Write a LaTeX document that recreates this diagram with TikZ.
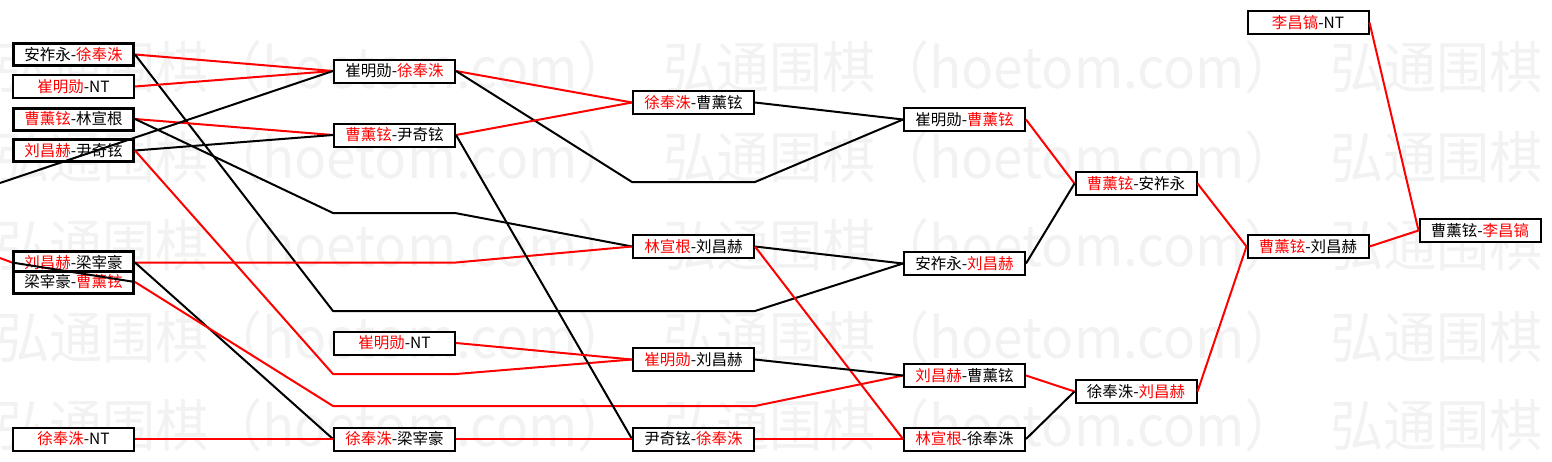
\documentclass[tikz,border=0pt]{standalone}
\usepackage{fontspec}
\setmainfont{Noto Sans CJK SC}
\newcommand{\rd}[1]{\textcolor{red}{#1}}
\tikzset{
  gbox/.style={draw=black, fill=white, line width=2pt, rectangle, inner sep=0pt,
    minimum width=121pt, minimum height=23pt, font=\fontsize{15.5}{15.5}\selectfont},
  gboxt/.style={gbox, line width=3pt, minimum width=120pt, minimum height=22pt},
  rl/.style={draw=red, line width=2pt},
  bl/.style={draw=black, line width=2pt},
  wm/.style={anchor=west, inner sep=0pt, text=black!5, font=\fontsize{56}{56}\selectfont}
}
\begin{document}
\begin{tikzpicture}[x=1pt, y=-1pt]
\useasboundingbox (0,0) rectangle (1552,461);
% watermark
\begin{scope}
\clip (0,0) rectangle (1552,461);
\foreach \yy [count=\i] in {67,157,245,337,425}{
  \foreach \xx [count=\j] in {-4,663,1330}{
    \node[wm] (W\i\j) at (\xx,\yy) {\scalebox{0.95}[1]{弘通围棋（hoetom.com）}};
  }
}
\end{scope}
% column 1
\node[gboxt] (A1) at (73.5,54.5) {安祚永-\rd{徐奉洙}};
\node[gbox]  (A2) at (73.5,86.5) {\rd{崔明勋}-NT};
\node[gboxt] (A3) at (73.5,119) {\rd{曹薰铉}-林宣根};
\node[gboxt] (A4) at (73.5,150.5) {\rd{刘昌赫}-尹奇铉};
\node[gboxt] (A5) at (73.5,262.5) {\rd{刘昌赫}-梁宰豪};
\node[gboxt] (A6) at (73.5,282) {梁宰豪-\rd{曹薰铉}};
\node[gbox]  (A7) at (73.5,439) {\rd{徐奉洙}-NT};
% column 2
\node[gbox] (B1) at (394.5,71) {崔明勋-\rd{徐奉洙}};
\node[gbox] (B2) at (394.5,135) {\rd{曹薰铉}-尹奇铉};
\node[gbox] (B3) at (394.5,343) {\rd{崔明勋}-NT};
\node[gbox] (B4) at (394.5,439) {\rd{徐奉洙}-梁宰豪};
% column 3
\node[gbox] (C1) at (693.5,102.5) {\rd{徐奉洙}-曹薰铉};
\node[gbox] (C2) at (693.5,246.5) {\rd{林宣根}-刘昌赫};
\node[gbox] (C3) at (693.5,359.5) {\rd{崔明勋}-刘昌赫};
\node[gbox] (C4) at (693.5,439) {尹奇铉-\rd{徐奉洙}};
% column 4
\node[gbox] (D1) at (964.5,119.5) {崔明勋-\rd{曹薰铉}};
\node[gbox] (D2) at (964.5,263.5) {安祚永-\rd{刘昌赫}};
\node[gbox] (D3) at (964.5,375.5) {\rd{刘昌赫}-曹薰铉};
\node[gbox] (D4) at (964.5,439) {\rd{林宣根}-徐奉洙};
% column 5
\node[gbox] (E1) at (1136,183.5) {\rd{曹薰铉}-安祚永};
\node[gbox] (E2) at (1136,391.5) {徐奉洙-\rd{刘昌赫}};
% column 6
\node[gbox] (F1) at (1308,22.5) {\rd{李昌镐}-NT};
\node[gbox] (F2) at (1308,246.5) {\rd{曹薰铉}-刘昌赫};
% column 7
\node[gbox] (G) at (1480,230.5) {曹薰铉-\rd{李昌镐}};
% free ends at the left edge
\coordinate (L1) at (0,183);
\coordinate (L2) at (0,258);
% connectors
\draw[rl] (A1.east) -- (B1.west);
\draw[bl] (A1.east) -- (333,311) -- (755,311) -- (D2.west);
\draw[rl] (A2.east) -- (B1.west);
\draw[rl] (A3.east) -- (B2.west);
\draw[bl] (A3.east) -- (333,213) -- (455,213) -- (C2.west);
\draw[bl] (A4.east) -- (B2.west);
\draw[rl] (A4.east) -- (333,374) -- (456,374) -- (C3.west);
\draw[bl] (L1) -- (B1.west);
\draw[rl] (L2) -- (A5.west);
\draw[bl] (A5.west) -- (A6.east);
\draw[rl] (A5.east) -- (456,262.5) -- (C2.west);
\draw[bl] (A5.east) -- (B4.west);
\draw[rl] (A6.east) -- (333,406) -- (755,406) -- (D3.west);
\draw[rl] (A7.east) -- (B4.west);
\draw[rl] (B1.east) -- (C1.west);
\draw[bl] (B1.east) -- (632,182) -- (755,182) -- (D1.west);
\draw[rl] (B2.east) -- (C1.west);
\draw[bl] (B2.east) -- (C4.west);
\draw[rl] (B3.east) -- (C3.west);
\draw[rl] (B4.east) -- (C4.west);
\draw[bl] (C1.east) -- (D1.west);
\draw[bl] (C2.east) -- (D2.west);
\draw[rl] (C2.east) -- (D4.west);
\draw[bl] (C3.east) -- (D3.west);
\draw[rl] (C4.east) -- (D4.west);
\draw[rl] (D1.east) -- (E1.west);
\draw[bl] (D2.east) -- (E1.west);
\draw[rl] (D3.east) -- (E2.west);
\draw[bl] (D4.east) -- (E2.west);
\draw[rl] (E1.east) -- (F2.west);
\draw[rl] (E2.east) -- (F2.west);
\draw[rl] (F1.east) -- (G.west);
\draw[rl] (F2.east) -- (G.west);
\end{tikzpicture}
\end{document}
